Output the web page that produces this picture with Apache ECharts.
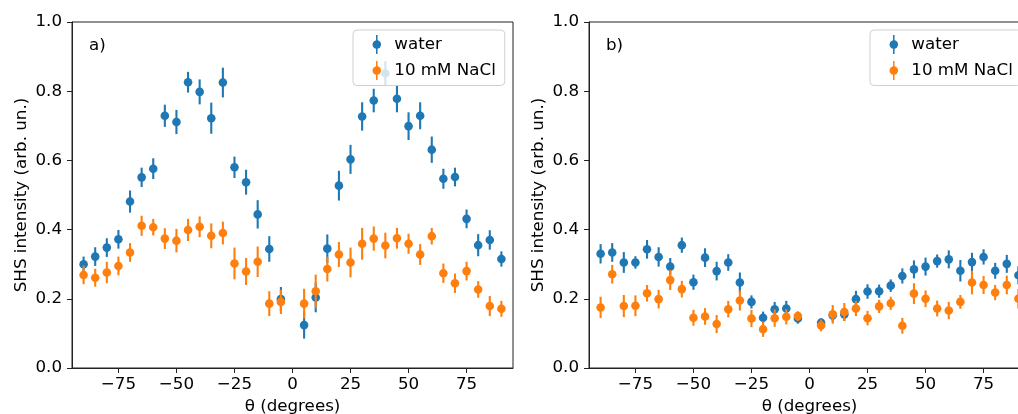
<!DOCTYPE html>
<html>
<head>
<meta charset="utf-8">
<script src="https://cdn.jsdelivr.net/npm/echarts@6/dist/echarts.min.js"></script>
<style>
html,body{margin:0;padding:0;background:#fff;}
#chart{width:1018px;height:414px;}
</style>
</head>
<body>
<div id="chart"></div>
<script>
// Angles (degrees); no measurement at 0
const angles = [-90,-85,-80,-75,-70,-65,-60,-55,-50,-45,-40,-35,-30,-25,-20,-15,-10,-5,
                5,10,15,20,25,30,35,40,45,50,55,60,65,70,75,80,85,90];

// Panel a)
const waterA    = [0.300,0.322,0.348,0.372,0.481,0.551,0.576,0.729,0.711,0.826,0.798,0.722,0.825,0.580,0.537,0.444,0.344,0.199,
                   0.124,0.204,0.345,0.527,0.603,0.727,0.773,0.852,0.778,0.699,0.729,0.631,0.547,0.552,0.431,0.355,0.370,0.315];
const waterAErr = [0.022,0.027,0.027,0.027,0.032,0.028,0.030,0.032,0.035,0.030,0.036,0.045,0.043,0.031,0.036,0.041,0.037,0.035,
                   0.039,0.043,0.041,0.043,0.042,0.041,0.034,0.035,0.039,0.040,0.039,0.038,0.029,0.027,0.027,0.032,0.028,0.022];
const naclA     = [0.269,0.261,0.276,0.295,0.334,0.411,0.407,0.374,0.368,0.399,0.408,0.382,0.390,0.302,0.279,0.307,0.186,0.191,
                   0.186,0.222,0.286,0.328,0.305,0.359,0.374,0.354,0.375,0.359,0.328,0.381,0.274,0.245,0.280,0.227,0.179,0.171];
const naclAErr  = [0.027,0.026,0.031,0.027,0.027,0.029,0.024,0.030,0.034,0.032,0.030,0.036,0.033,0.046,0.039,0.044,0.036,0.035,
                   0.043,0.048,0.036,0.036,0.043,0.046,0.035,0.037,0.030,0.029,0.030,0.024,0.028,0.028,0.027,0.024,0.029,0.023];

// Panel b)
const waterB    = [0.330,0.334,0.305,0.305,0.343,0.321,0.293,0.355,0.248,0.319,0.280,0.305,0.247,0.191,0.145,0.170,0.172,0.143,
                   0.131,0.152,0.155,0.199,0.221,0.222,0.238,0.266,0.285,0.293,0.309,0.314,0.281,0.306,0.321,0.281,0.301,0.268];
const waterBErr = [0.028,0.027,0.030,0.018,0.027,0.028,0.025,0.022,0.022,0.027,0.027,0.024,0.029,0.019,0.018,0.021,0.022,0.015,
                   0.012,0.018,0.019,0.024,0.021,0.019,0.018,0.022,0.026,0.026,0.019,0.026,0.031,0.027,0.022,0.023,0.026,0.026];
const naclB     = [0.175,0.271,0.179,0.180,0.216,0.199,0.254,0.228,0.145,0.149,0.127,0.170,0.195,0.143,0.112,0.144,0.148,0.150,
                   0.123,0.155,0.162,0.172,0.144,0.178,0.187,0.122,0.215,0.200,0.172,0.166,0.191,0.247,0.240,0.218,0.240,0.200];
const naclBErr  = [0.031,0.027,0.032,0.030,0.024,0.027,0.029,0.024,0.023,0.024,0.026,0.024,0.029,0.025,0.022,0.025,0.022,0.014,
                   0.017,0.027,0.026,0.022,0.021,0.019,0.019,0.023,0.030,0.024,0.023,0.025,0.020,0.034,0.026,0.022,0.027,0.028];

const xTicks = [-75,-50,-25,0,25,50,75];
const yTicks = [0.0,0.2,0.4,0.6,0.8,1.0];
const seriesNames = ['water','10 mM NaCl'];
const panelLabels = ['a)','b)'];

const BLUE = '#1f77b4', ORANGE = '#ff7f0e';
const FONT = 'DejaVu Sans';
const FS = 16.7;

function rows(vals, errs){ return angles.map((a,i)=>[a, vals[i], errs[i]]); }

function errRender(color){
  return function(params, api){
    const x = api.value(0), y = api.value(1), e = api.value(2);
    const p = api.coord([x, y]);
    const t = api.coord([x, y + e]);
    const b = api.coord([x, y - e]);
    return {type:'group', children:[
      {type:'line', shape:{x1:p[0], y1:t[1], x2:p[0], y2:b[1]}, style:{stroke:color, lineWidth:2.1}},
      {type:'circle', shape:{cx:p[0], cy:p[1], r:4.3}, style:{fill:color}}
    ]};
  };
}

const gridLefts = [72, 589];
const grids = gridLefts.map(l => ({left:l, top:22, width:441, height:346, show:true, borderColor:'#222', borderWidth:1,
  backgroundColor:'transparent', containLabel:false, outerBoundsMode:'none'}));

const xAxes = gridLefts.map((l,i) => ({
  type:'value', gridIndex:i, min:-95, max:95,
  name:'θ (degrees)', nameLocation:'middle', nameGap:26,
  nameTextStyle:{fontFamily:FONT, fontSize:FS, color:'#000'},
  axisLine:{show:true, onZero:false, lineStyle:{color:'#222', width:1}},
  axisTick:{show:true, length:5, lineStyle:{color:'#222', width:1}, customValues:xTicks},
  axisLabel:{margin:8, fontFamily:FONT, fontSize:FS, color:'#000', customValues:xTicks,
             formatter:v => String(v).replace('-', '\u2212')},
  splitLine:{show:false}
}));

const yAxes = gridLefts.map((l,i) => ({
  type:'value', gridIndex:i, min:0, max:1,
  name:'SHS intensity (arb. un.)', nameLocation:'middle', nameGap:42,
  nameTextStyle:{fontFamily:FONT, fontSize:FS, color:'#000'},
  axisLine:{show:true, onZero:false, lineStyle:{color:'#222', width:1}},
  axisTick:{show:true, length:5, lineStyle:{color:'#222', width:1}, customValues:yTicks},
  axisLabel:{margin:10, fontFamily:FONT, fontSize:FS, color:'#000', customValues:yTicks,
             formatter:v => v.toFixed(1)},
  splitLine:{show:false}
}));

const panelData = [
  [rows(waterA, waterAErr), rows(naclA, naclAErr)],
  [rows(waterB, waterBErr), rows(naclB, naclBErr)]
];
const colors = [BLUE, ORANGE];

const series = [];
panelData.forEach((pd, gi) => {
  pd.forEach((d, si) => {
    series.push({
      type:'custom', name:seriesNames[si], xAxisIndex:gi, yAxisIndex:gi,
      itemStyle:{color:colors[si]},
      renderItem:errRender(colors[si]),
      encode:{x:0, y:[1,2]},
      data:d, z:2+si, animation:false, clip:false
    });
  });
});

const ICON = 'path://M4.2,0L5.8,0L5.8,5.57A4.5,4.5,0,0,1,5.8,14.43L5.8,20L4.2,20L4.2,14.43A4.5,4.5,0,0,1,4.2,5.57Z';
const legends = gridLefts.map(l => ({
  left: l + 281, top: 30, orient:'vertical',
  data: seriesNames.map(n => ({name:n, icon:ICON})),
  itemWidth:25, itemHeight:19, itemGap:7, symbolKeepAspect:true,
  padding:[5, 9, 5.5, 19.5],
  backgroundColor:'rgba(255,255,255,0.8)', borderColor:'#d0d0d0', borderWidth:1, borderRadius:4,
  selectedMode:false,
  textStyle:{fontFamily:FONT, fontSize:FS, color:'#000', lineHeight:19}
}));

const graphics = gridLefts.map((l,i) => ({
  type:'text', left:l + 17, top:37,
  style:{text:panelLabels[i], fontFamily:FONT, fontSize:FS, fill:'#000'}
}));

const chart = echarts.init(document.getElementById('chart'), null, {renderer:'canvas'});
chart.setOption({
  animation:false,
  backgroundColor:'#fff',
  grid:grids, xAxis:xAxes, yAxis:yAxes, series:series, legend:legends, graphic:graphics
});
</script>
</body>
</html>
